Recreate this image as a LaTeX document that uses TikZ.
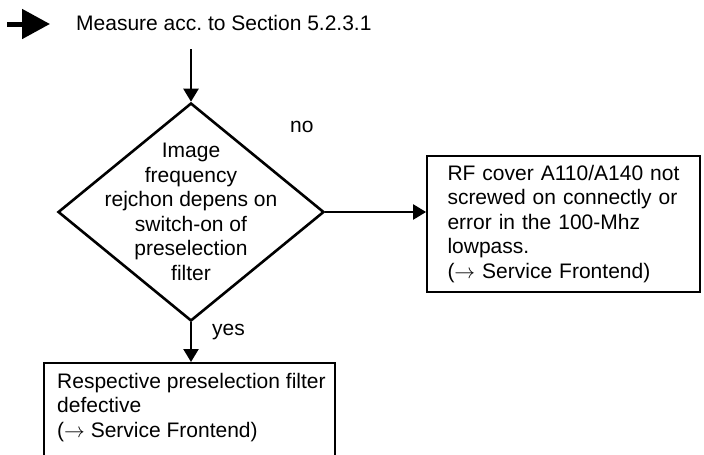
\documentclass[tikz,border=0pt]{standalone}
\usepackage{fontspec}
\setmainfont{Liberation Sans}
\usetikzlibrary{shapes.geometric, arrows.meta, positioning}
\frenchspacing

\begin{document}
\begin{tikzpicture}[x=1pt, y=-1pt,
	decision/.style={diamond, draw=black, line width=2.6pt,
		minimum width=266pt, minimum height=218pt, inner sep=0pt},
	block/.style={rectangle, draw=black, line width=1.8pt, align=left,
		font=\fontsize{21}{24.5}\selectfont},
	txt/.style={inner sep=0pt, font=\fontsize{21}{24.5}\selectfont},
	arrow/.style={-{Triangle[length=13pt, width=15pt]}, line width=2.4pt},
	bigarrow/.style={-{Triangle[length=28pt, width=29pt]}, line width=5pt}
	]
	\useasboundingbox (0,0) rectangle (704,455);
	\clip (0,0) rectangle (704,455);

	\node[txt, anchor=base west] (start) at (76,30) {Measure acc. to Section 5.2.3.1};
	\coordinate (ptail) at (7,24);
	\coordinate (phead) at (50,24);
	\coordinate (entry) at (191,49);

	\node[decision] (check) at (191,212) {};
	\node[txt, align=center] (checktext) at (check.center) {Image\\frequency\\rejchon depens on\\switch-on of\\preselection\\filter};

	\node[block, minimum width=273pt, minimum height=136pt, text width=232pt, inner xsep=20.5pt] (cover) at (563.5,224) {RF cover A110/A140 not\\screwed on connectly or\\error in the 100-Mhz\\lowpass.\\($\rightarrow$ Service Frontend)};

	\node[block, anchor=north west, minimum width=291pt, minimum height=130pt] (result) at (43,362) {};
	\node[txt, align=left, below right=11pt and 14pt of result.north west] (resulttext) {Respective preselection filter\\defective\\($\rightarrow$ Service Frontend)};

	\node[txt, anchor=base west] (nolabel) at (290,132) {no};
	\node[txt, anchor=base west] (yeslabel) at (212,335) {yes};

	\draw[bigarrow] (ptail) -- (phead);
	\draw[arrow] (entry) -- (check.north);
	\draw[arrow] (check.east) -- (check.east -| cover.west);
	\draw[arrow] (check.south) -- (check.south |- result.north);
\end{tikzpicture}
\end{document}
